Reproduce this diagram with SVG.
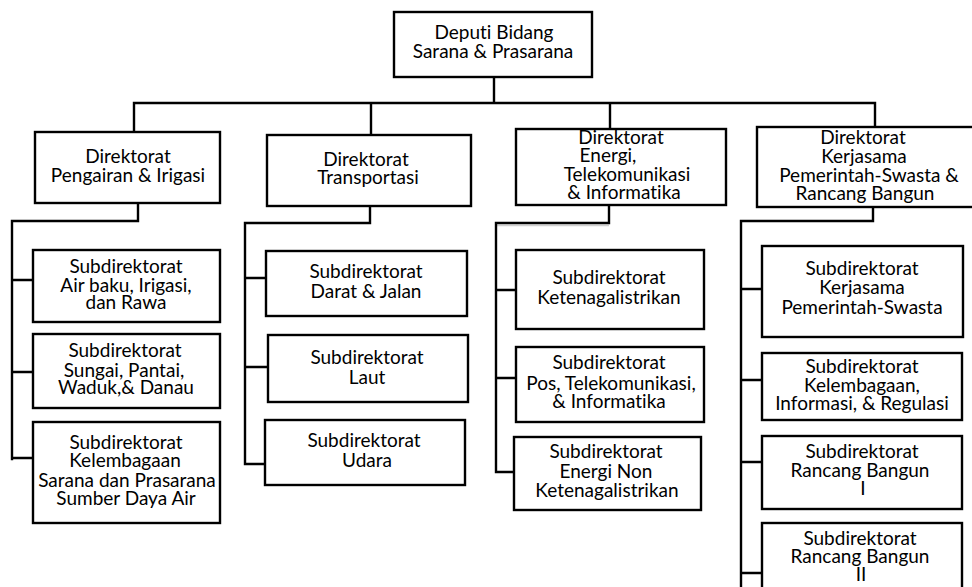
<svg xmlns="http://www.w3.org/2000/svg" width="972" height="587" viewBox="0 0 972 587">
  <style>
    .box { fill: #ffffff; stroke: #000000; stroke-width: 2.4; }
    .wire { fill: none; stroke: #000000; stroke-width: 2.4; stroke-linecap: square; }
    .lbl { font-family: Lato, "Open Sans", "Liberation Sans", sans-serif; font-size: 19px; fill: #000000; text-anchor: middle; font-variant-ligatures: none; font-feature-settings: "liga" 0, "clig" 0; }
  </style>
  <rect width="972" height="587" fill="#ffffff"/>

  <!-- connectors -->
  <g id="connectors">
    <path class="wire" d="M494,77 V103 M134,103 H875 M134,103 V132 M371,103 V135 M610,103 V128 M875,103 V127"/>
    <!-- Pengairan & Irigasi branch -->
    <path class="wire" d="M138,203 V221 H12 V459 M12,280 H33 M12,372 H33 M12,458 H33"/>
    <!-- Transportasi branch -->
    <path class="wire" d="M370,206 V223 H245 V464 M245,278 H266 M245,367 H268 M245,464 H265"/>
    <!-- Energi branch -->
    <path d="M497,225.5 H609" stroke="#d0d0d0" stroke-width="1.5" fill="none"/>
    <path class="wire" d="M609,205 V223 H496 V472 M496,290 H516 M496,378 H516 M496,472 H514"/>
    <!-- Kerjasama branch -->
    <path class="wire" d="M873,207 V221 H741 V590 M741,289 H762 M741,380 H762 M741,462 H762 M741,573 H762"/>
  </g>

  <!-- head -->
  <g id="deputi">
    <rect class="box" x="394" y="12" width="198" height="65"/>
    <text class="lbl" x="494" y="39">Deputi Bidang</text>
    <text class="lbl" x="493" y="58">Sarana &amp; Prasarana</text>
  </g>

  <!-- directorates -->
  <g id="dir-pengairan">
    <rect class="box" x="35" y="132" width="185" height="71"/>
    <text class="lbl" x="128" y="163">Direktorat</text>
    <text class="lbl" x="128" y="182">Pengairan &amp; Irigasi</text>
  </g>
  <g id="dir-transportasi">
    <rect class="box" x="267" y="135" width="204" height="71"/>
    <text class="lbl" x="366" y="166">Direktorat</text>
    <text class="lbl" x="368" y="184">Transportasi</text>
  </g>
  <g id="dir-energi">
    <rect class="box" x="516" y="129" width="210" height="76"/>
    <text class="lbl" x="621" y="144">Direktorat</text>
    <text class="lbl" x="608" y="162">Energi,</text>
    <text class="lbl" x="627" y="181">Telekomunikasi</text>
    <text class="lbl" x="624" y="199">&amp; Informatika</text>
  </g>
  <g id="dir-kerjasama">
    <rect class="box" x="757" y="127" width="220" height="80"/>
    <text class="lbl" x="863" y="144">Direktorat</text>
    <text class="lbl" x="864" y="163">Kerjasama</text>
    <text class="lbl" x="869" y="182">Pemerintah-Swasta &amp;</text>
    <text class="lbl" x="865" y="200">Rancang Bangun</text>
  </g>

  <!-- Pengairan & Irigasi sub-directorates -->
  <g id="sub-airbaku">
    <rect class="box" x="33" y="250" width="187" height="72"/>
    <text class="lbl" x="126" y="273">Subdirektorat</text>
    <text class="lbl" x="126" y="292">Air baku, Irigasi,</text>
    <text class="lbl" x="126" y="309">dan Rawa</text>
  </g>
  <g id="sub-sungai">
    <rect class="box" x="33" y="334" width="187" height="74"/>
    <text class="lbl" x="125" y="357">Subdirektorat</text>
    <text class="lbl" x="124" y="377">Sungai, Pantai,</text>
    <text class="lbl" x="126" y="394">Waduk,&amp; Danau</text>
  </g>
  <g id="sub-kelembagaan-sda">
    <rect class="box" x="33" y="422" width="187" height="101"/>
    <text class="lbl" x="126" y="449">Subdirektorat</text>
    <text class="lbl" x="125" y="467">Kelembagaan</text>
    <text class="lbl" x="127" y="487">Sarana dan Prasarana</text>
    <text class="lbl" x="126" y="505">Sumber Daya Air</text>
  </g>

  <!-- Transportasi sub-directorates -->
  <g id="sub-darat">
    <rect class="box" x="266" y="251" width="201" height="65"/>
    <text class="lbl" x="366" y="278">Subdirektorat</text>
    <text class="lbl" x="366" y="298">Darat &amp; Jalan</text>
  </g>
  <g id="sub-laut">
    <rect class="box" x="268" y="335" width="200" height="67"/>
    <text class="lbl" x="367" y="364">Subdirektorat</text>
    <text class="lbl" x="367" y="384">Laut</text>
  </g>
  <g id="sub-udara">
    <rect class="box" x="265" y="420" width="200" height="65"/>
    <text class="lbl" x="364" y="447">Subdirektorat</text>
    <text class="lbl" x="367" y="467">Udara</text>
  </g>

  <!-- Energi sub-directorates -->
  <g id="sub-listrik">
    <rect class="box" x="516" y="250" width="188" height="79"/>
    <text class="lbl" x="609" y="284">Subdirektorat</text>
    <text class="lbl" x="609" y="304">Ketenagalistrikan</text>
  </g>
  <g id="sub-pos">
    <rect class="box" x="516" y="347" width="188" height="75"/>
    <text class="lbl" x="609" y="369">Subdirektorat</text>
    <text class="lbl" x="611" y="390">Pos, Telekomunikasi,</text>
    <text class="lbl" x="609" y="408">&amp; Informatika</text>
  </g>
  <g id="sub-energi-non">
    <rect class="box" x="514" y="437" width="187" height="73"/>
    <text class="lbl" x="606" y="458">Subdirektorat</text>
    <text class="lbl" x="606" y="478">Energi Non</text>
    <text class="lbl" x="607" y="497">Ketenagalistrikan</text>
  </g>

  <!-- Kerjasama sub-directorates -->
  <g id="sub-kps">
    <rect class="box" x="762" y="246" width="201" height="91"/>
    <text class="lbl" x="862" y="275">Subdirektorat</text>
    <text class="lbl" x="862" y="294">Kerjasama</text>
    <text class="lbl" x="862" y="314">Pemerintah-Swasta</text>
  </g>
  <g id="sub-regulasi">
    <rect class="box" x="762" y="353" width="200" height="67"/>
    <text class="lbl" x="862" y="373">Subdirektorat</text>
    <text class="lbl" x="862" y="392">Kelembagaan,</text>
    <text class="lbl" x="862" y="410">Informasi, &amp; Regulasi</text>
  </g>
  <g id="sub-rb1">
    <rect class="box" x="762" y="436" width="200" height="73"/>
    <text class="lbl" x="862" y="458">Subdirektorat</text>
    <text class="lbl" x="860" y="477">Rancang Bangun</text>
    <text class="lbl" x="863" y="495">I</text>
  </g>
  <g id="sub-rb2">
    <rect class="box" x="762" y="523" width="200" height="80"/>
    <text class="lbl" x="860" y="545">Subdirektorat</text>
    <text class="lbl" x="860" y="563">Rancang Bangun</text>
    <text class="lbl" x="861" y="581">II</text>
  </g>
</svg>
